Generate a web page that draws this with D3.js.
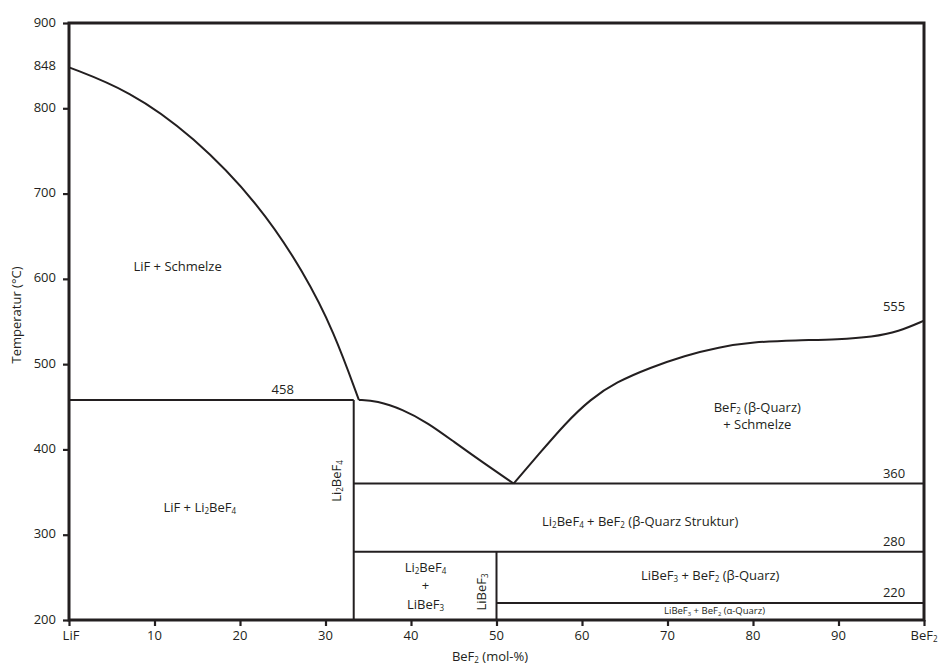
<!DOCTYPE html>
<html><head><meta charset="utf-8">
<script src="https://cdn.jsdelivr.net/npm/d3@7"></script>
<style>
body{margin:0;background:#fff;}
text{font-family:"Open Sans","Noto Sans",sans-serif;fill:#231f20;}
</style></head>
<body><svg id="c" width="940" height="666"></svg>
<script>
// ---- data ----
const xTickValues = [0,10,20,30,40,50,60,70,80,90,100];
const xTickLabels = ["LiF","10","20","30","40","50","60","70","80","90","BeF2"];
const yTickValues = [200,300,400,500,600,700,800,900];
const yExtraLabels = [848];
// liquidus LiF side [mol-% BeF2, °C]
const liquidusLiF = [[0,848],[7,821],[14.5,768],[22.3,687],[27.5,607],[31,538],[33.9,458]];
// liquidus between Li2BeF4 and eutectic
const liquidusMid = [[33.9,458],[36,457],[39,447],[42,431],[45,409],[48.5,384],[52,360]];
// liquidus BeF2 side
const liquidusBeF2 = [[52,360],[55,395],[58,430],[61,459],[64,479],[68,496],[72,510],[76,520],[80,526],[85,528],[90,529],[94,532],[97,538],[100,551]];
// straight phase boundaries [x1,T1,x2,T2]
const boundaries = [
  [0,458,33.3,458],
  [33.3,200,33.3,458],
  [33.3,360,100,360],
  [33.3,280,100,280],
  [50,200,50,280],
  [50,220,100,220]
];
// temperature labels [x, T, text]
const tempLabels = [[25,458,"458"],[96.5,555,"555"],[96.5,360,"360"],[96.5,280,"280"],[96.5,220,"220"]];

// ---- layout ----
const svg = d3.select("#c");
const L=69, R=924, T=23, B=620;
const x = d3.scaleLinear().domain([0,100]).range([L,R]);
const y = d3.scaleLinear().domain([200,900]).range([B,T]);
const ink="#231f20";
const FS=13;

function rich(sel, parts, size){
  parts.forEach(([t,sub])=>{
    if(sub){ sel.append("tspan").attr("font-size",size*0.62).attr("baseline-shift","-28%").text(t); }
    else { sel.append("tspan").attr("font-size",size).text(t); }
  });
}

// axes
const xAxis = d3.axisBottom(x).tickValues(xTickValues).tickSize(6).tickFormat("");
const gx = svg.append("g").attr("transform",`translate(0,${B})`).call(xAxis);
gx.select(".domain").remove();
gx.selectAll(".tick line").attr("stroke",ink).attr("stroke-width",2.2);
xTickValues.forEach((v,i)=>{
  const t = svg.append("text").attr("x",x(v)+(i===0?2:0)).attr("y",640).attr("text-anchor","middle").attr("font-size",FS);
  if(xTickLabels[i]==="BeF2") rich(t,[["BeF",0],["2",1]],FS); else t.text(xTickLabels[i]);
});
const yAxis = d3.axisLeft(y).tickValues(yTickValues).tickSize(6).tickFormat("");
const gy = svg.append("g").attr("transform",`translate(${L},0)`).call(yAxis);
gy.select(".domain").remove();
gy.selectAll(".tick line").attr("stroke",ink).attr("stroke-width",2.2);
yTickValues.concat(yExtraLabels).forEach(v=>{
  svg.append("text").attr("x",56).attr("y",y(v)+(v===848?-2:-1)).attr("dy","0.35em").attr("text-anchor","end").attr("font-size",FS).text(v);
});

// axis titles
const xt = svg.append("text").attr("x",490).attr("y",661).attr("text-anchor","middle").attr("font-size",FS);
rich(xt,[["BeF",0],["2",1],[" (mol-%)",0]],FS);
svg.append("text").attr("transform","translate(21,315) rotate(-90)").attr("text-anchor","middle").attr("font-size",FS).text("Temperatur (°C)");

// boundaries
svg.append("g").selectAll("line").data(boundaries).join("line")
  .attr("x1",d=>x(d[0])).attr("y1",d=>y(d[1])).attr("x2",d=>x(d[2])).attr("y2",d=>y(d[3]))
  .attr("stroke",ink).attr("stroke-width",2);

// curves
const line = d3.line().x(d=>x(d[0])).y(d=>y(d[1])).curve(d3.curveBasis);
[liquidusLiF, liquidusMid, liquidusBeF2].forEach(c=>{
  svg.append("path").attr("d",line(c)).attr("fill","none").attr("stroke",ink).attr("stroke-width",2);
});

// frame
svg.append("rect").attr("x",L).attr("y",T).attr("width",R-L).attr("height",B-T)
  .attr("fill","none").attr("stroke",ink).attr("stroke-width",3);

// temperature labels
tempLabels.forEach(([xv,tv,s])=>{
  svg.append("text").attr("x",x(xv)).attr("y",y(tv)-6).attr("text-anchor","middle").attr("font-size",FS).text(s);
});

// field labels
function label(px,py,parts,size,rot){
  const t = svg.append("text").attr("text-anchor","middle").attr("font-size",size);
  if(rot) t.attr("transform",`translate(${px},${py}) rotate(-90)`);
  else t.attr("x",px).attr("y",py);
  rich(t,parts,size);
}
label(x(12.7),271,[["LiF + Schmelze",0]],FS);
label(x(15.3),512,[["LiF + Li",0],["2",1],["BeF",0],["4",1]],FS);
label(x(31.8),481,[["Li",0],["2",1],["BeF",0],["4",1]],FS,true);
label(x(66.8),526,[["Li",0],["2",1],["BeF",0],["4",1],[" + BeF",0],["2",1],[" (β-Quarz Struktur)",0]],FS);
label(x(41.7),572,[["Li",0],["2",1],["BeF",0],["4",1]],FS);
label(x(41.7),590,[["+",0]],FS);
label(x(41.7),609,[["LiBeF",0],["3",1]],FS);
label(x(48.8),592,[["LiBeF",0],["3",1]],FS,true);
label(x(75),580,[["LiBeF",0],["3",1],[" + BeF",0],["2",1],[" (β-Quarz)",0]],FS);
label(x(75.5),614,[["LiBeF",0],["3",1],[" + BeF",0],["2",1],[" (α-Quarz)",0]],9.5);
label(x(80.5),412,[["BeF",0],["2",1],[" (β-Quarz)",0]],FS);
label(x(80.5),429,[["+ Schmelze",0]],FS);
</script></body></html>
